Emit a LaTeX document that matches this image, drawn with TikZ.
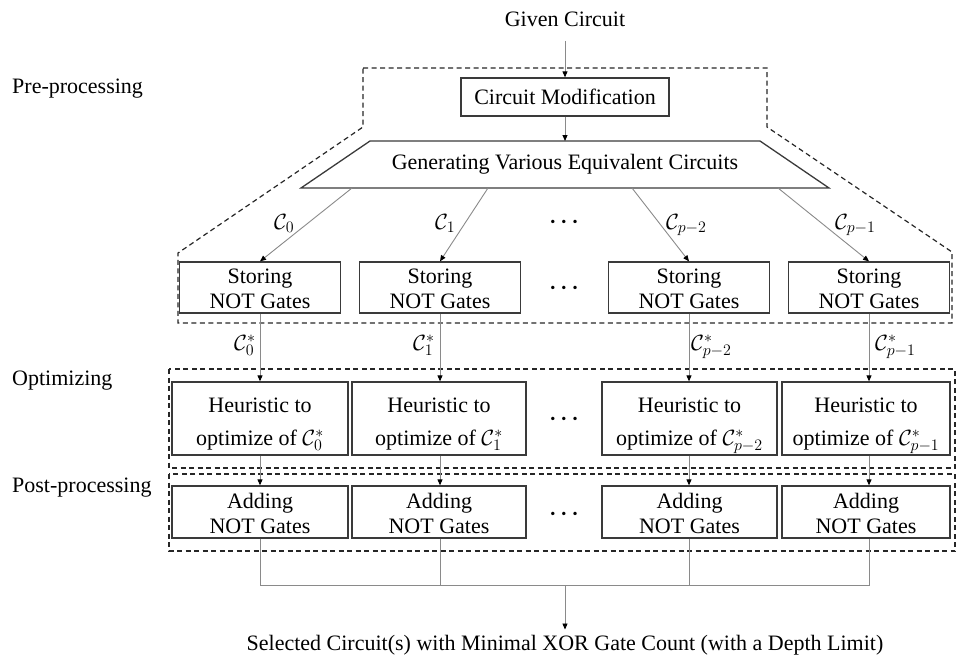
\RequirePackage{fix-cm}
\documentclass[tikz,border=0pt]{standalone}
\usepackage{fontspec}
\setmainfont{Liberation Serif}
\DeclareMathSizes{22}{22}{16}{12}
\usetikzlibrary{arrows.meta}
\definecolor{boxc}{HTML}{3A3A3A}
\definecolor{connc}{HTML}{8A8A8A}
\begin{document}
\begin{tikzpicture}[x=1pt,y=-1pt,font=\fontsize{22}{25}\selectfont,
  txt/.style={inner sep=0pt,anchor=base},
  bx/.style={draw=boxc,line width=1.3pt,inner sep=0pt},
  shp/.style={draw=boxc,line width=1.3pt,line join=miter},
  conn/.style={draw=connc,line width=0.9pt},
  arr/.style={conn,-{Triangle[length=6pt,width=5pt,color=black]}},
  dsh/.style={draw=black!85,line width=1.2pt,dash pattern=on 5pt off 3.5pt},
  dotsty/.style={inner sep=0pt,font=\fontsize{22}{25}\selectfont\boldmath}]
\useasboundingbox (0,0) rectangle (957,661);

% dashed regions
\draw[dsh] (363,68) -- (767,68) -- (767,127) -- (952,252) -- (952,323) -- (178,323) -- (178,253) -- (363,127) -- cycle;
\draw[dsh] (169,369) rectangle (955,468);
\draw[dsh] (169,474) rectangle (955,551);

% side labels
\node[txt,anchor=base west] (pre) at (12,93) {Pre-processing};
\node[txt,anchor=base west] (opt) at (12,385) {Optimizing};
\node[txt,anchor=base west] (post) at (12,492) {Post-processing};

% top
\node[txt] (gc) at (565,27) {Given Circuit};
\node[bx,minimum width=208,minimum height=38] (cm) at (565,97) {Circuit Modification};
\draw[arr] ([yshift=-14pt]gc.base) -- (cm.north);

% trapezoid
\draw[shp] (370,141) -- (760,141) -- (829,188) -- (301,188) -- cycle;
\node[txt] (gen) at (565,169) {Generating Various Equivalent Circuits};
\coordinate (gtop) at (565,141);
\draw[arr] (cm.south) -- (gtop);
\coordinate (g0) at (352,188);
\coordinate (g1) at (488,188);
\coordinate (g2) at (632,188);
\coordinate (g3) at (778,188);

% storing boxes
\foreach \i/\x in {0/260,1/440,2/689,3/869}{
  \node[bx,minimum width=161,minimum height=51] (s\i) at (\x,287.5) {};
  \node[txt] (s\i t1) at (\x,283) {Storing};
  \node[txt] (s\i t2) at (\x,308) {NOT Gates};
  \draw[arr] (g\i) -- (s\i.north);
}

% labels C
\node[txt,anchor=base west] (l0) at (274,229) {$\mathcal{C}_0$};
\node[txt,anchor=base west] (l1) at (435,229) {$\mathcal{C}_1$};
\node[txt,anchor=base west] (l2) at (666,229) {$\mathcal{C}_{p-2}$};
\node[txt,anchor=base west] (l3) at (835,229) {$\mathcal{C}_{p-1}$};

\node[txt,anchor=base west] (m0) at (234,350) {$\mathcal{C}_0^*$};
\node[txt,anchor=base west] (m1) at (413,350) {$\mathcal{C}_1^*$};
\node[txt,anchor=base west] (m2) at (691,350) {$\mathcal{C}_{p-2}^*$};
\node[txt,anchor=base west] (m3) at (875,350) {$\mathcal{C}_{p-1}^*$};

% heuristic and adding boxes
\foreach \i/\x/\w/\m in {0/260/176/0,1/439/174/1,2/689.5/175/p-2,3/866/168/p-1}{
  \node[bx,minimum width=\w,minimum height=73] (h\i) at (\x,418.5) {};
  \node[txt] (h\i t1) at (\x,412) {Heuristic to};
  \node[txt] (h\i t2) at (\x,445) {optimize of $\mathcal{C}_{\m}^*$};
  \node[bx,minimum width=\w,minimum height=52] (a\i) at (\x,512) {};
  \node[txt] (a\i t1) at (\x,508) {Adding};
  \node[txt] (a\i t2) at (\x,533) {NOT Gates};
}

\foreach \i in {0,1,2,3}{
  \draw[arr] (s\i.south) -- (s\i.south |- h\i.north);
  \draw[arr] (s\i.south |- h\i.south) -- (s\i.south |- a\i.north);
}

% ellipses
\node[dotsty] (d1) at (564,222) {$\cdots$};
\node[dotsty] (d2) at (564,288) {$\cdots$};
\node[dotsty] (d3) at (564,419) {$\cdots$};
\node[dotsty] (d4) at (564,514) {$\cdots$};

% bottom
\coordinate (jn) at (565,585);
\node[txt] (sel) at (565,650) {Selected Circuit(s) with Minimal XOR Gate Count (with a Depth Limit)};
\draw[conn] (s0.south |- a0.south) |- (s3.south |- jn) -- (s3.south |- a3.south);
\draw[conn] (s1.south |- a1.south) -- (s1.south |- jn);
\draw[conn] (s2.south |- a2.south) -- (s2.south |- jn);
\draw[arr] (jn) -- ([yshift=5pt]sel.north);
\end{tikzpicture}
\end{document}
